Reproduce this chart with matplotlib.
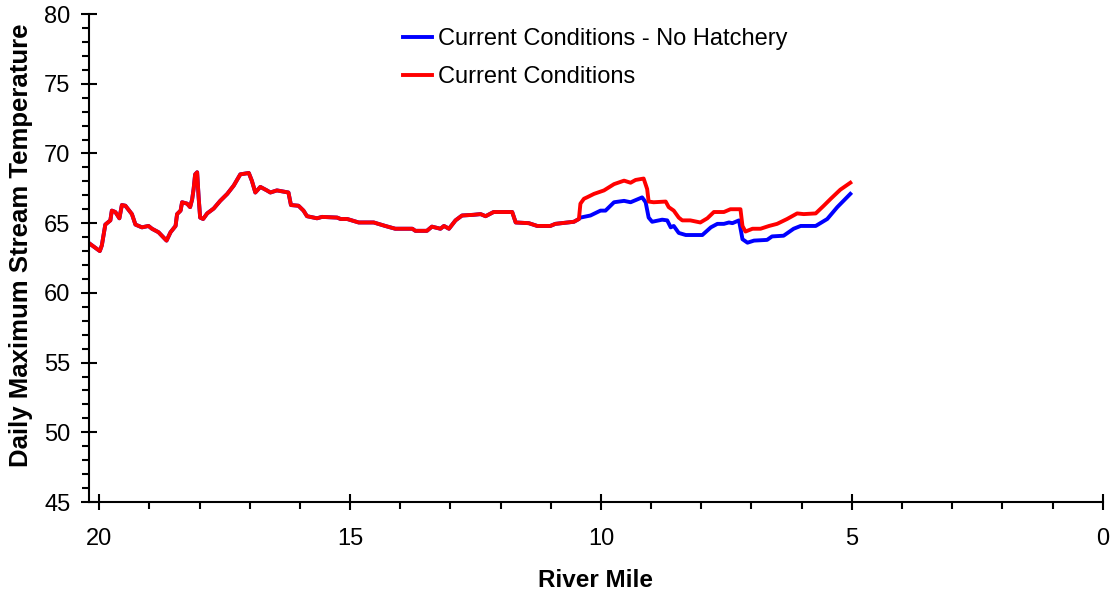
import matplotlib.pyplot as plt
from matplotlib.ticker import MultipleLocator

plt.rcParams['font.family'] = ['Liberation Sans', 'DejaVu Sans']

# shared upstream section (both scenarios identical)
shared_mile = [20.18, 19.99, 19.95, 19.88, 19.78, 19.75, 19.68, 19.6, 19.55, 19.48,
               19.35, 19.28, 19.15, 19.02, 18.95, 18.82, 18.66, 18.58, 18.48, 18.45,
               18.38, 18.35, 18.25, 18.19, 18.15, 18.12, 18.09, 18.05, 18.02, 17.99,
               17.93, 17.85, 17.72, 17.59, 17.45, 17.32, 17.19, 17.02, 16.96, 16.89,
               16.79, 16.66, 16.59, 16.46, 16.23, 16.18, 16.03, 15.93, 15.86, 15.66,
               15.56, 15.26, 15.19, 15.06, 14.83, 14.53, 14.30, 14.10, 13.76, 13.70,
               13.47, 13.37, 13.20, 13.13, 13.03, 12.90, 12.77, 12.54, 12.40, 12.30,
               12.14, 11.77, 11.70, 11.44, 11.27, 11.01, 10.91, 10.54, 10.44]
shared_temp = [63.5, 63.0, 63.4, 64.9, 65.2, 65.9, 65.8, 65.35, 66.3, 66.25,
               65.65, 64.9, 64.7, 64.8, 64.6, 64.35, 63.75, 64.35, 64.8, 65.65,
               65.9, 66.5, 66.4, 66.15, 66.7, 67.45, 68.5, 68.65, 66.85, 65.4,
               65.3, 65.7, 66.05, 66.6, 67.1, 67.7, 68.5, 68.6, 68.05, 67.2,
               67.6, 67.35, 67.2, 67.35, 67.2, 66.3, 66.25, 65.9, 65.5, 65.35,
               65.45, 65.4, 65.3, 65.3, 65.05, 65.05, 64.8, 64.6, 64.6, 64.45,
               64.45, 64.75, 64.6, 64.8, 64.6, 65.2, 65.55, 65.6, 65.65, 65.5,
               65.8, 65.8, 65.05, 65.0, 64.8, 64.8, 64.95, 65.1, 65.3]

# downstream of the hatchery
nohatch_mile = [10.41, 10.21, 10.01, 9.91, 9.74, 9.54, 9.41, 9.18, 9.11, 9.05,
                8.98, 8.78, 8.68, 8.61, 8.55, 8.45, 8.31, 7.98, 7.81, 7.68,
                7.55, 7.45, 7.38, 7.25, 7.21, 7.18, 7.08, 6.95, 6.69, 6.59,
                6.36, 6.16, 6.02, 5.72, 5.49, 5.29, 5.03]
nohatch_temp = [65.4, 65.55, 65.9, 65.9, 66.5, 66.6, 66.5, 66.85, 66.5, 65.4,
                65.1, 65.25, 65.2, 64.7, 64.8, 64.3, 64.15, 64.15, 64.7, 64.95,
                64.95, 65.05, 65.0, 65.2, 64.45, 63.85, 63.6, 63.75, 63.8, 64.05,
                64.1, 64.6, 64.8, 64.8, 65.3, 66.15, 67.1]

current_mile = [10.41, 10.34, 10.28, 10.14, 9.94, 9.74, 9.54, 9.41, 9.31, 9.15,
                9.08, 9.05, 8.95, 8.71, 8.65, 8.55, 8.45, 8.38, 8.22, 8.02,
                7.88, 7.75, 7.55, 7.42, 7.22, 7.18, 7.12, 6.98, 6.82, 6.65,
                6.49, 6.29, 6.09, 5.96, 5.72, 5.56, 5.42, 5.23, 5.03]
current_temp = [66.4, 66.75, 66.85, 67.1, 67.35, 67.8, 68.05, 67.9, 68.1, 68.2,
                67.45, 66.55, 66.5, 66.55, 66.15, 65.9, 65.4, 65.2, 65.2, 65.05,
                65.35, 65.8, 65.8, 66.0, 66.0, 64.8, 64.4, 64.6, 64.6, 64.8,
                64.95, 65.3, 65.7, 65.65, 65.7, 66.25, 66.75, 67.4, 67.9]

fig = plt.figure(figsize=(11.1, 5.92), dpi=100)
ax = fig.add_axes([0.0802, 0.152, 0.9132, 0.8243])

ax.plot(shared_mile + nohatch_mile, shared_temp + nohatch_temp, color='#0000ff', lw=2.8,
        label='Current Conditions - No Hatchery')
ax.plot(shared_mile + current_mile, shared_temp + current_temp, color='#ff0000', lw=2.8,
        label='Current Conditions')

ax.set_xlim(20.205, 0)
ax.set_ylim(45, 80)
ax.xaxis.set_major_locator(MultipleLocator(5))
ax.xaxis.set_minor_locator(MultipleLocator(1))
ax.yaxis.set_major_locator(MultipleLocator(5))
ax.yaxis.set_minor_locator(MultipleLocator(1))

for s in ['top', 'right']:
    ax.spines[s].set_visible(False)
for s in ['left', 'bottom']:
    ax.spines[s].set_linewidth(1.5)

ax.tick_params(which='major', direction='inout', length=11, width=1.5, labelsize=17)
ax.tick_params(axis='y', which='major', pad=8)
ax.tick_params(axis='x', which='major', pad=13)
ax.tick_params(which='minor', direction='out', length=5, width=1.5)

ax.set_xlabel('River Mile', fontsize=17.5, fontweight='bold', labelpad=14)
ax.set_ylabel('Daily Maximum Stream Temperature', fontsize=18.5, fontweight='bold')
ax.yaxis.set_label_coords(-0.055, 0.527)

ax.legend(loc='upper left', bbox_to_anchor=(0.31, 0.971), frameon=False, fontsize=17,
          handlelength=1.23, handletextpad=0.25, labelspacing=0.67,
          borderpad=0, borderaxespad=0)

fig.savefig('out.png', dpi=100)
